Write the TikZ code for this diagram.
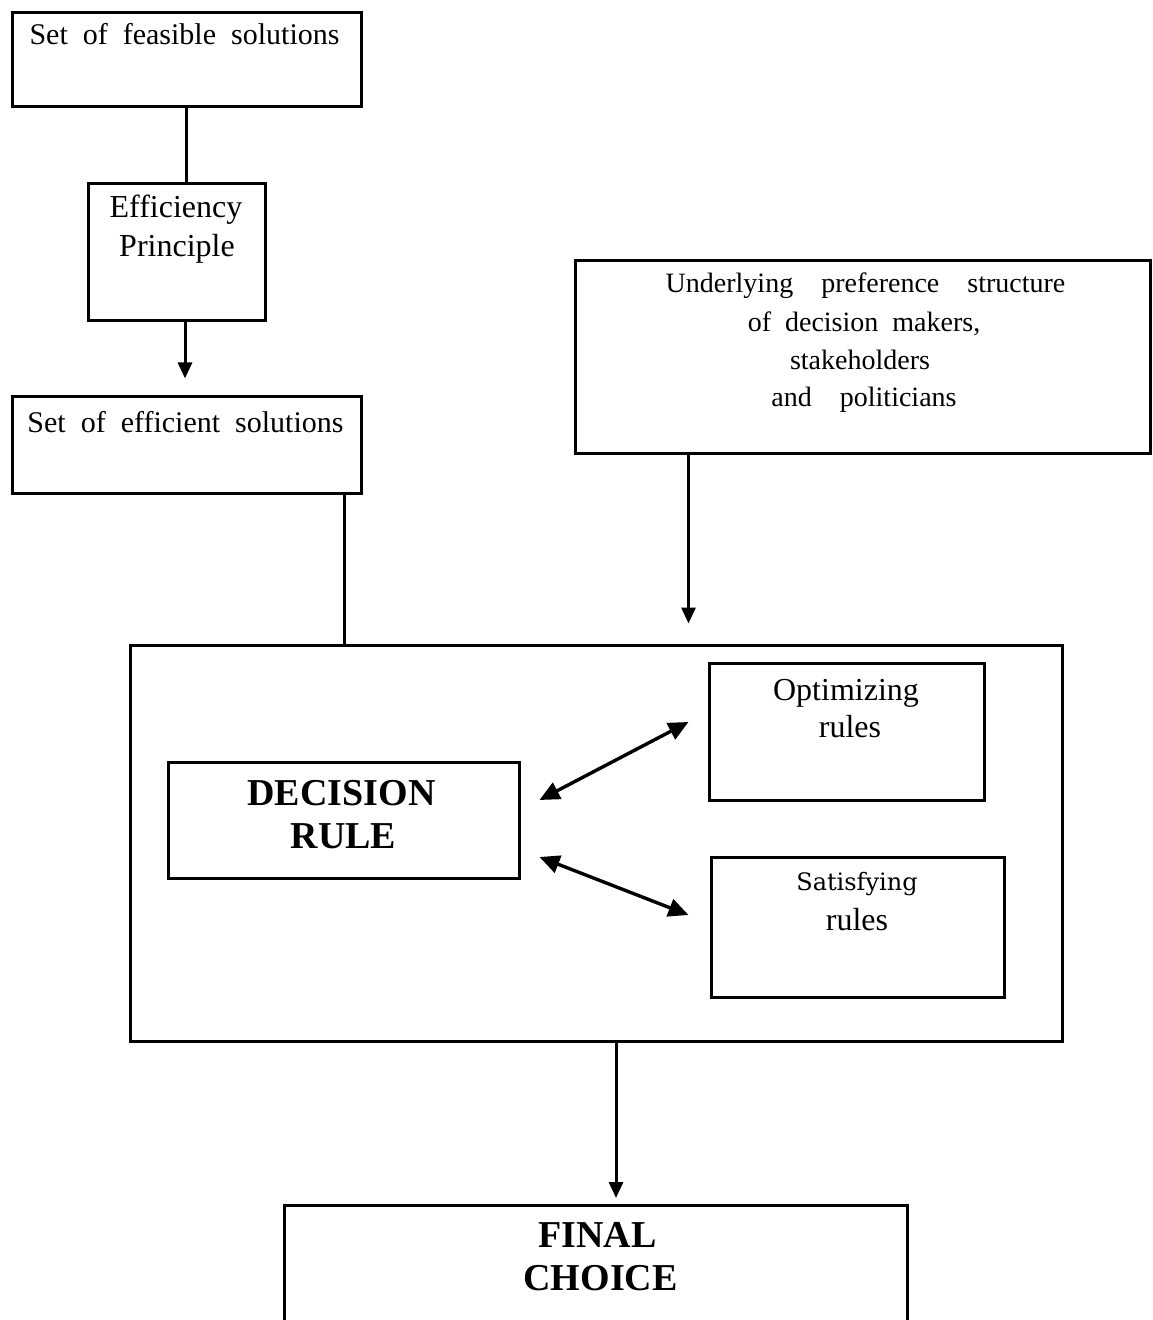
\documentclass[tikz,border=0pt]{standalone}
\usepackage{fontspec}
\setmainfont{Liberation Serif}
\newfontfamily\satfont{DejaVu Serif}
\usetikzlibrary{arrows.meta}
\begin{document}
\begin{tikzpicture}[x=0.5pt,y=-0.5pt,
  box/.style={draw, line width=1.5pt, rectangle, inner sep=0pt},
  txt/.style={inner sep=0pt, anchor=base},
  f15/.style={font=\fontsize{15pt}{18pt}\selectfont},
  f16/.style={font=\fontsize{16pt}{19pt}\selectfont},
  f14/.style={font=\fontsize{14pt}{17pt}\selectfont},
  fbold/.style={font=\fontsize{19pt}{22pt}\selectfont\bfseries},
  link/.style={line width=1.5pt},
  arr/.style={line width=1.5pt, -{Triangle[length=8pt,width=7pt]}},
  darr/.style={line width=1.7pt, {Triangle[length=10pt,width=9pt]}-{Triangle[length=10pt,width=9pt]}},
  ]
\useasboundingbox (0,0) rectangle (1152,1320);

% boxes
\node[box, minimum width=174.5pt, minimum height=47pt] (feas) at (186.5,60) {};
\node[box, minimum width=88.5pt, minimum height=68.5pt] (eff) at (176.5,252.5) {};
\node[box, minimum width=174.5pt, minimum height=48pt] (effsol) at (186.5,445) {};
\node[box, minimum width=287.5pt, minimum height=96pt] (pref) at (862.5,357) {};
\node[box, minimum width=466pt, minimum height=198pt] (dec) at (596,843) {};
\node[box, minimum width=175.5pt, minimum height=58pt] (rule) at (343.5,820) {};
\node[box, minimum width=137.5pt, minimum height=68.5pt] (opt) at (846.5,731.5) {};
\node[box, minimum width=146.5pt, minimum height=70pt] (sat) at (857.5,927) {};
\node[inner sep=0pt, minimum width=311pt, minimum height=57.5pt, anchor=north] (final) at (596,1205) {};
\draw[link] (final.south west) -- (final.north west) -- (final.north east) -- (final.south east);

% texts
\node[txt,f15] (feasT) at (184.5,45) {Set\ \ of\ \ feasible\ \ solutions};
\node[txt,f16] (effT1) at (176,218) {Efficiency};
\node[txt,f16] (effT2) at (177,257) {Principle};
\node[txt,f15] (effsolT) at (185.5,432) {Set\ \ of\ \ efficient\ \ solutions};
\node[txt,f14] (prefT1) at (865.5,293) {Underlying\ \ \ \ preference\ \ \ \ structure};
\node[txt,f14] (prefT2) at (864,332) {of\ \ decision\ \ makers,};
\node[txt,f14] (prefT3) at (860,370) {stakeholders};
\node[txt,f14] (prefT4) at (864,407) {and\ \ \ \ politicians};
\node[txt,fbold] (ruleT1) at (341.5,805) {DECISION};
\node[txt,fbold] (ruleT2) at (343.5,848) {RULE};
\node[txt,f16] (optT1) at (846,700) {Optimizing};
\node[txt,f16] (optT2) at (850,737) {rules};
\node[txt,font=\satfont\fontsize{12pt}{14pt}\selectfont] (satT1) at (857,890) {Satisfying};
\node[txt,f16] (satT2) at (857,930) {rules};
\node[txt,fbold] (finalT1) at (597.5,1247) {FINAL};
\node[txt,fbold] (finalT2) at (600.5,1290) {CHOICE};

% connectors
\draw[link] (feas.south) -- (feas.south |- eff.north);
\draw[arr, shorten >=8.5pt] ([xshift=4.25pt]eff.south) -- ([xshift=4.25pt]eff.south |- effsol.north);
\draw[link] ([xshift=-9pt]effsol.south east) -- ([xshift=-9pt]effsol.south east |- dec.north);
\draw[arr, shorten >=10pt] ([xshift=57.5pt]pref.south west) -- ([xshift=57.5pt]pref.south west |- dec.north);
\draw[darr] ([shift={(9.5pt,10pt)}]rule.east) -- ([shift={(-9.5pt,4.75pt)}]opt.west);
\draw[darr] ([shift={(9.5pt,-18.5pt)}]rule.east) -- ([shift={(-10.5pt,6pt)}]sat.west);
\draw[arr, shorten >=3.5pt] ([xshift=10pt]dec.south) -- ([xshift=10pt]dec.south |- final.north);
\end{tikzpicture}
\end{document}
